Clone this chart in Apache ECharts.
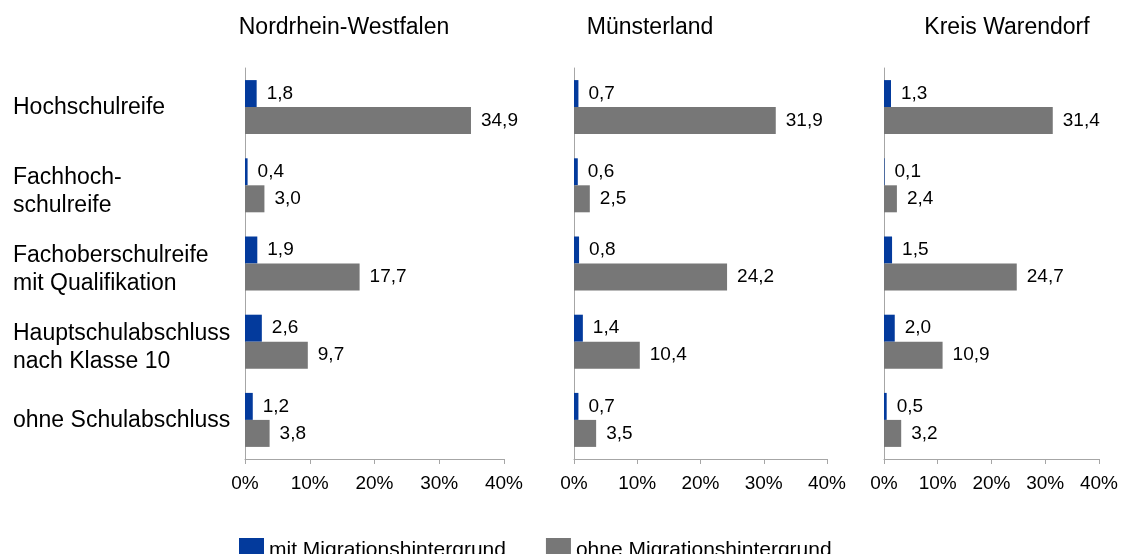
<!DOCTYPE html>
<html>
<head>
<meta charset="utf-8">
<script src="https://cdn.jsdelivr.net/npm/echarts@6/dist/echarts.min.js"></script>
<style>
  html, body { margin: 0; padding: 0; background: #fff; }
  #chart { width: 1121px; height: 554px; }
</style>
</head>
<body>
<div id="chart"></div>
<script>
// Schulabschlüsse nach Migrationshintergrund (Anteile in %)
const categories = [
  'Hochschulreife',
  'Fachhoch-\nschulreife',
  'Fachoberschulreife\nmit Qualifikation',
  'Hauptschulabschluss\nnach Klasse 10',
  'ohne Schulabschluss'
];
const regions = ['Nordrhein-Westfalen', 'Münsterland', 'Kreis Warendorf'];
const seriesNames = ['mit Migrationshintergrund', 'ohne Migrationshintergrund'];

const nrwMit = [1.8, 0.4, 1.9, 2.6, 1.2];
const nrwOhne = [34.9, 3.0, 17.7, 9.7, 3.8];
const msMit = [0.7, 0.6, 0.8, 1.4, 0.7];
const msOhne = [31.9, 2.5, 24.2, 10.4, 3.5];
const wafMit = [1.3, 0.1, 1.5, 2.0, 0.5];
const wafOhne = [31.4, 2.4, 24.7, 10.9, 3.2];

const xTicks = [0, 10, 20, 30, 40];

const FONT = '"Liberation Sans", Arial, sans-serif';
const BLUE = '#033a9c';
const GREY = '#777777';
const AXIS = '#a6a6a6';

const panels = [
  { mit: nrwMit, ohne: nrwOhne, left: 245, width: 259, titleX: 344 },
  { mit: msMit, ohne: msOhne, left: 574, width: 253, titleX: 650 },
  { mit: wafMit, ohne: wafOhne, left: 884, width: 219, titleX: 1007 }
];

const fmt = v => v.toFixed(1).replace('.', ',');

const grids = [], xAxes = [], yAxes = [], series = [], graphics = [];
panels.forEach((p, i) => {
  grids.push({ left: p.left, width: p.width, top: 68, height: 391, containLabel: false });
  xAxes.push({
    type: 'value', gridIndex: i,
    min: xTicks[0], max: xTicks[xTicks.length - 1], interval: 10,
    axisLine: { show: true, lineStyle: { color: AXIS, width: 1 } },
    axisTick: { show: true, length: 5, lineStyle: { color: AXIS } },
    splitLine: { show: false },
    axisLabel: {
      formatter: '{value}%', fontSize: 19, fontFamily: FONT, color: '#000', margin: 15
    }
  });
  yAxes.push({
    type: 'category', gridIndex: i, data: categories, inverse: true,
    axisLine: { show: true, lineStyle: { color: AXIS, width: 1 } },
    axisTick: { show: false },
    axisLabel: i === 0 ? {
      show: true, align: 'left', margin: 232,
      formatter: v => {
        const lines = v.split('\n');
        const body = lines.map(l => '{t|' + l + '}').join('\n');
        return lines.length > 1 ? '{sp| }\n' + body : body;
      },
      rich: {
        t: { fontSize: 23, lineHeight: 28, fontFamily: FONT, color: '#000', padding: [2, 0, 0, 0] },
        sp: { fontSize: 2, lineHeight: 10 }
      }
    } : { show: false }
  });
  [[p.mit, BLUE, seriesNames[0]], [p.ohne, GREY, seriesNames[1]]].forEach(([d, c, n]) => {
    series.push({
      type: 'bar', name: n, xAxisIndex: i, yAxisIndex: i, data: d,
      barWidth: 27, barGap: '0%',
      itemStyle: { color: c },
      label: {
        show: true, position: 'right', distance: 10,
        fontSize: 19, fontFamily: FONT, color: '#000',
        formatter: q => fmt(q.value)
      }
    });
  });
  graphics.push({
    type: 'text', x: p.titleX, y: 28,
    style: {
      text: regions[i], textAlign: 'center', textVerticalAlign: 'middle',
      fontSize: 23, fontFamily: FONT, fill: '#000'
    }
  });
});

const chart = echarts.init(document.getElementById('chart'), null, { renderer: 'canvas' });
chart.setOption({
  animation: false,
  backgroundColor: '#fff',
  grid: grids,
  xAxis: xAxes,
  yAxis: yAxes,
  series: series,
  graphic: graphics,
  legend: {
    data: seriesNames,
    left: 234, top: 533,
    icon: 'rect', itemWidth: 25, itemHeight: 25, itemGap: 40,
    textStyle: { fontSize: 21, fontFamily: FONT, color: '#000' }
  }
});
</script>
</body>
</html>
